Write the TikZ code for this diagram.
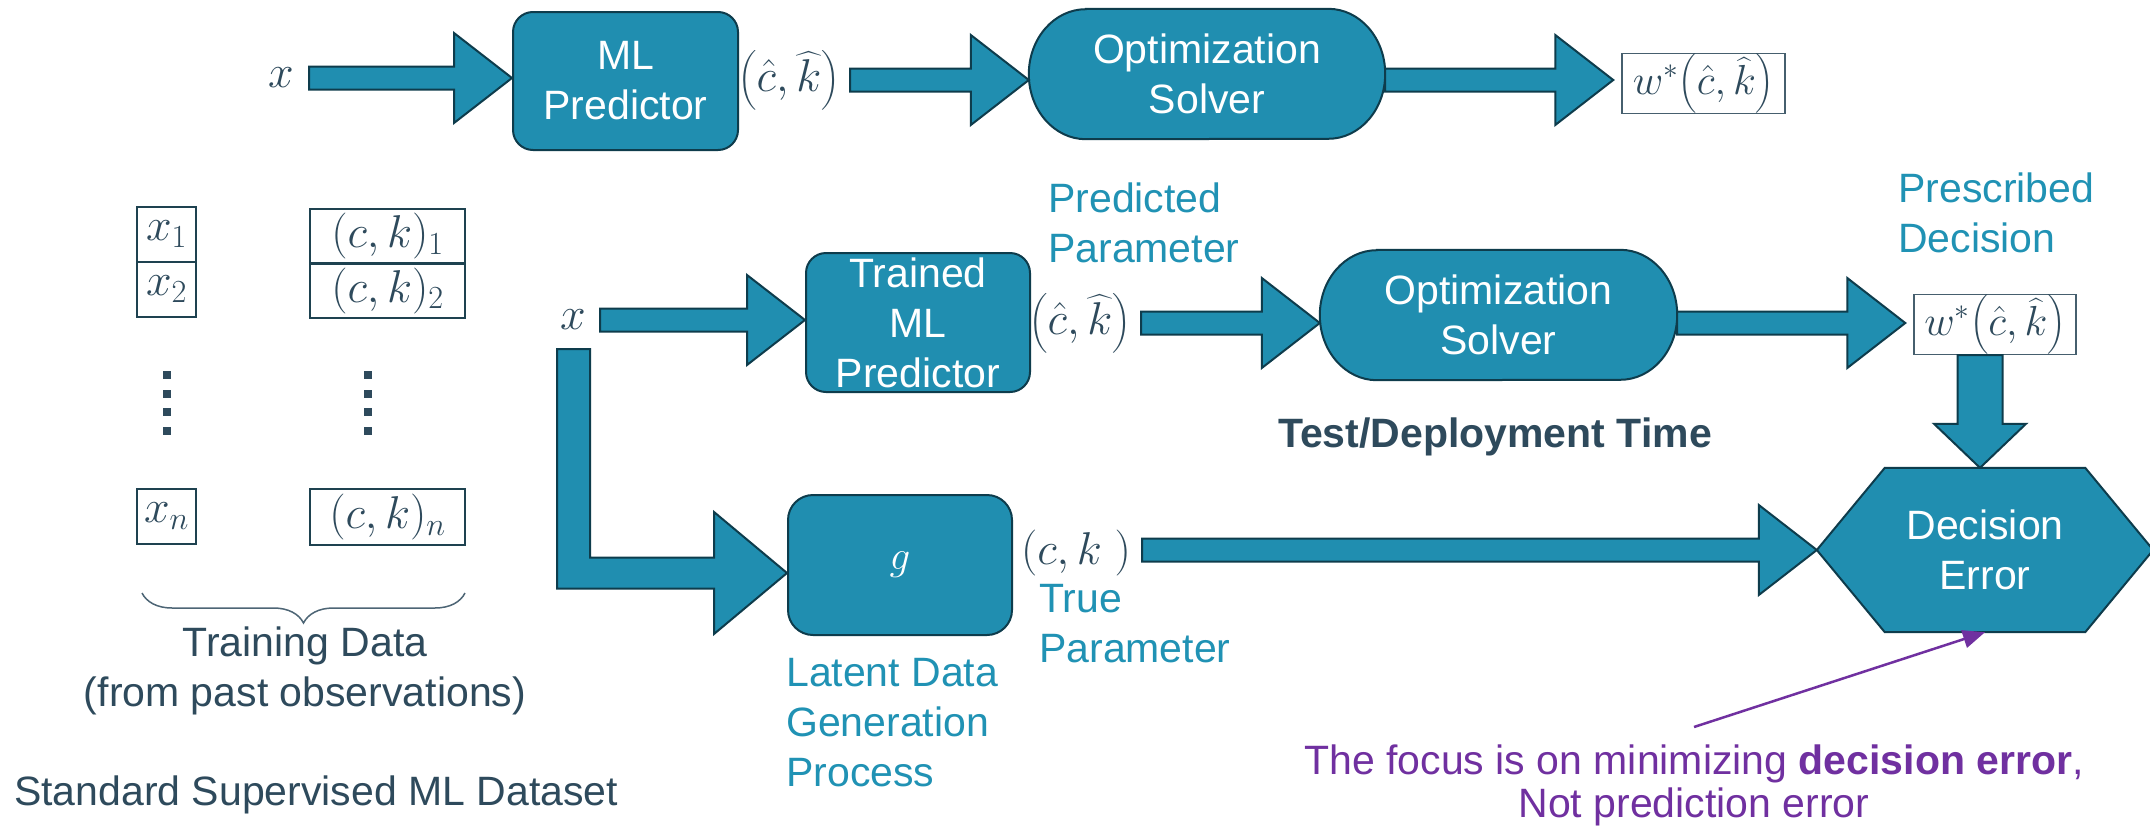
\RequirePackage{fix-cm}
\documentclass[tikz,border=0pt]{standalone}
\usepackage{amsmath}
\usepackage{fontspec}
\setmainfont{Liberation Sans}
\usetikzlibrary{arrows.meta,calc,backgrounds,decorations.pathreplacing}

\definecolor{boxfill}{RGB}{32,142,176}
\definecolor{boxedge}{RGB}{14,60,76}
\definecolor{slate}{RGB}{46,74,92}
\definecolor{labelteal}{RGB}{32,146,180}
\definecolor{focuspurple}{RGB}{112,48,160}
\definecolor{celledge}{RGB}{30,66,80}
\definecolor{outedge}{RGB}{70,95,110}

\newcommand\txtsize{\fontsize{41}{50}\selectfont}
\newcommand\mathsize{\fontsize{46}{52}\selectfont}
\newcommand\outsize{\fontsize{42}{48}\selectfont}

% horizontal block arrow: tail at #1, tip at the x of #2 (row height taken from #1)
\newcommand\blockright[2]{%
  \path[blockarrow] let \p1=#1, \p2=#2 in
    (\x1,\y1+11.5pt) -- (\x2-58pt,\y1+11.5pt) -- (\x2-58pt,\y1+45pt) -- (\x2,\y1)
    -- (\x2-58pt,\y1-45pt) -- (\x2-58pt,\y1-11.5pt) -- (\x1,\y1-11.5pt) -- cycle;}
% downward block arrow: tail at #1, tip at the y of #2
\newcommand\blockdown[2]{%
  \path[blockarrow] let \p1=#1, \p2=#2 in
    (\x1-22.5pt,\y1) -- (\x1+22.5pt,\y1) -- (\x1+22.5pt,\y2+44pt) -- (\x1+46pt,\y2+44pt)
    -- (\x1,\y2) -- (\x1-46pt,\y2+44pt) -- (\x1-22.5pt,\y2+44pt) -- cycle;}

\tikzset{
  blockarrow/.style={fill=boxfill, draw=boxedge, line width=2pt, line join=miter},
  procbox/.style={draw=boxedge, fill=boxfill, line width=2pt, rounded corners=20pt,
    text=white, font=\txtsize, align=center, inner sep=0pt},
  shapetext/.style={text=white, font=\txtsize, align=center, inner sep=0pt},
  shapebody/.style={draw=boxedge, fill=boxfill, line width=2pt, line join=miter},
  caption/.style={text=labelteal, font=\txtsize, align=left, inner sep=0pt, anchor=north west},
  darktext/.style={text=slate, font=\txtsize, inner sep=0pt},
  mathlabel/.style={text=slate, font=\mathsize, inner sep=0pt},
  cell/.style={draw=celledge, line width=2.5pt, text=slate, font=\mathsize, inner sep=0pt},
  outbox/.style={draw=outedge, line width=1.5pt, fill=white, text=slate, font=\outsize, inner sep=0pt},
}

\begin{document}
\begin{tikzpicture}[x=1pt,y=-1pt]
\useasboundingbox (0,0) rectangle (2150,833);

% ---------- top pipeline ----------
\node[mathlabel] (x0) at (281,78) {$x$};
\node[procbox, minimum width=225pt, minimum height=138pt] (mlp) at (625.5,81) {ML\\Predictor};
\node[mathlabel] (chat1) at (789,80) {$\left(\hat{c},\widehat{k}\right)$};
\node[shapetext, minimum width=356pt, minimum height=130pt] (opt1) at (1207,74) {Optimization\\Solver};
\node[outbox, minimum width=163pt, minimum height=59pt] (w1) at (1703.5,83.5) {$w^{*}\!\left(\hat{c},\widehat{k}\right)$};

% ---------- training data ----------
\node[cell, minimum width=59pt, minimum height=55pt] (xa) at (166.5,234.5) {$x_1$};
\node[cell, minimum width=59pt, minimum height=55pt] (xb) at (166.5,289.5) {$x_2$};
\node[cell, minimum width=59pt, minimum height=55pt] (xn) at (166.5,516.5) {$x_n$};
\node[cell, minimum width=155pt, minimum height=54.5pt] (cka) at (387.5,236) {$(c,k)_1$};
\node[cell, minimum width=155pt, minimum height=54.5pt] (ckb) at (387.5,290.5) {$(c,k)_2$};
\node[cell, minimum width=155pt, minimum height=56pt] (ckn) at (387.5,517) {$(c,k)_n$};
\foreach \yy in {375,393.7,412.3,431}{
  \fill[slate] (163,\yy-4) rectangle (171,\yy+4);
  \fill[slate] (364,\yy-4) rectangle (372,\yy+4);
}
\coordinate (bl) at (142,593);
\coordinate (br) at (465,593);
\draw[slate!85, line width=1.5pt, decorate, decoration={brace, mirror, amplitude=30pt}] (bl) -- (br);
\node[darktext, align=center, anchor=north] (trainlbl) at (305,627) {Training Data\\(from past observations)};
\node[darktext, anchor=base west] (dataset) at (14,805) {Standard Supervised ML Dataset};

% ---------- test / deployment pipeline ----------
\node[mathlabel] (x2) at (573,320) {$x$};
\node[procbox, minimum width=224pt, minimum height=139pt] (tml) at (918,322.5) {Trained\\ML\\Predictor};
\node[mathlabel] (chat2) at (1080,323) {$\left(\hat{c},\widehat{k}\right)$};
\node[shapetext, minimum width=357pt, minimum height=130pt] (opt2) at (1498.5,315) {Optimization\\Solver};
\node[outbox, minimum width=162pt, minimum height=57pt] (w2) at (1995,324.5) {$w^{*}\!\left(\hat{c},\widehat{k}\right)$};
\node[caption] (predlbl) at (1048,183) {Predicted\\Parameter};
\node[caption] (preslbl) at (1898,173) {Prescribed\\Decision};
\node[darktext, font=\txtsize\bfseries, anchor=base east] (phase) at (1712,447) {Test/Deployment Time};

\node[procbox, rounded corners=25pt, minimum width=224pt, minimum height=140pt] (gen) at (900,565) {$g$};
\node[mathlabel] (ck) at (1076,553) {$(c,k\;)$};
\node[caption] (truelbl) at (1039,584) {True\\Parameter};
\node[caption] (latentlbl) at (786,658) {Latent Data\\Generation\\Process};
\node[shapetext, minimum width=336pt, minimum height=164pt] (hex) at (1985,550) {Decision\\Error};

\node[text=focuspurple, font=\fontsize{41}{43}\selectfont, align=center, inner sep=0pt, anchor=north]
  (focus) at (1694,745) {The focus is on minimizing \textbf{decision error},\\Not prediction error};

% ---------- shape bodies behind the texts ----------
\begin{scope}[on background layer]
  \fill[white] (0,0) rectangle (2150,833);
  \foreach \n in {opt1,opt2}{
    \path[shapebody] ([xshift=57pt]\n.north west) -- ([xshift=-57pt]\n.north east)
      arc[start angle=90, end angle=-90, x radius=57pt, y radius=65pt]
      -- ([xshift=57pt]\n.south west)
      arc[start angle=270, end angle=90, x radius=57pt, y radius=65pt] -- cycle;
  }
  \path[shapebody] ([xshift=68pt]hex.north west) -- ([xshift=-68pt]hex.north east) -- (hex.east)
    -- ([xshift=-68pt]hex.south east) -- ([xshift=68pt]hex.south west) -- (hex.west) -- cycle;
\end{scope}

% ---------- block arrows ----------
\blockright{($(x0.center)+(28,0)$)}{(mlp.west)}
\blockright{($(chat1.center)+(61,0)$)}{(opt1.west)}
\blockright{(opt1.east |- chat1.center)}{([xshift=-8pt]w1.west)}

\blockright{($(x2.center)+(27,0)$)}{(tml.west)}
\blockright{($(chat2.center)+(61,0)$)}{(opt2.west)}
\blockright{(opt2.east |- chat2.center)}{([xshift=-8pt]w2.west)}
\blockdown{([xshift=-15pt]w2.south)}{(hex.north)}
\blockright{($(ck.center)+(66,-3)$)}{(hex.west)}

% branch from x down to the data generation process
\path[blockarrow] let \p1=($(x2.center)+(0.5,29)$), \p2=([yshift=-8pt]gen.west) in
  (\x1-16.5pt,\y1) -- (\x1+16.5pt,\y1) -- (\x1+16.5pt,\y2+15.5pt) -- (\x2-73pt,\y2+15.5pt)
  -- (\x2-73pt,\y2+61pt) -- (\x2,\y2) -- (\x2-73pt,\y2-61pt) -- (\x2-73pt,\y2-15.5pt)
  -- (\x1-16.5pt,\y2-15.5pt) -- cycle;

% pointer from the remark to the error node
\draw[focuspurple, line width=2.5pt, -{Triangle[length=22pt,width=18pt]}]
  ([yshift=18pt]focus.north) -- (hex.south);
\end{tikzpicture}
\end{document}
